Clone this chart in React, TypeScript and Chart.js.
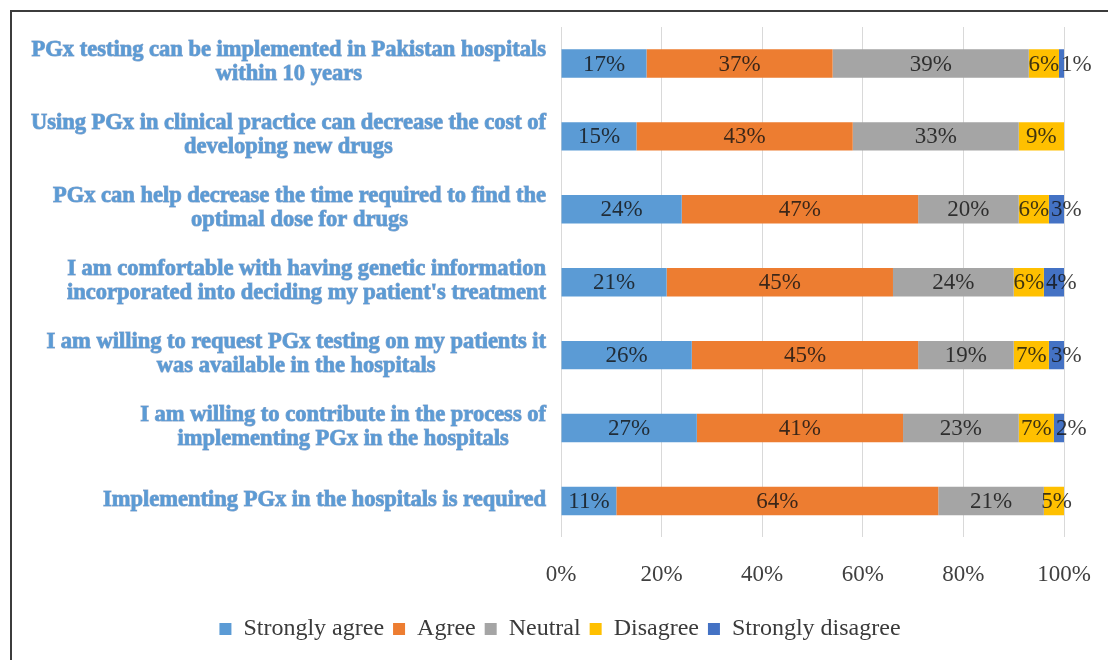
import React, { useEffect, useRef } from "react";
import { Chart, registerables } from "chart.js";

Chart.register(...registerables);

// Survey statements (top to bottom), each split into its printed lines
const statements: string[][] = [
  ["PGx testing can be implemented in Pakistan hospitals", "within 10 years"],
  ["Using PGx in clinical practice can decrease the cost of", "developing new drugs"],
  ["PGx can help decrease the time required to find the", "optimal dose for drugs"],
  ["I am comfortable with having genetic information", "incorporated into deciding my patient's treatment"],
  ["I am willing to request PGx testing on my patients it", "was available in the hospitals"],
  ["I am willing to contribute in the process of", "implementing PGx in the hospitals"],
  ["Implementing PGx in the hospitals is required"],
];

const seriesNames = ["Strongly agree", "Agree", "Neutral", "Disagree", "Strongly disagree"];
const seriesColors = ["#5b9bd5", "#ed7d31", "#a5a5a5", "#ffc000", "#4472c4"];

// Percentages per statement, in the same order as the statements
const stronglyAgree = [17, 15, 24, 21, 26, 27, 11];
const agree = [37, 43, 47, 45, 45, 41, 64];
const neutral = [39, 33, 20, 24, 19, 23, 21];
const disagree = [6, 9, 6, 6, 7, 7, 5];
const stronglyDisagree = [1, 0, 3, 4, 3, 2, 0];

const xTicks = [0, 20, 40, 60, 80, 100];

const SERIF = '"Liberation Serif", "Times New Roman", serif';
const LABEL_FONT = `bold 22.5px ${SERIF}`;
const VALUE_FONT = `23px ${SERIF}`;

// Statement labels: each block is right-aligned against the plot, lines centred within it
const statementLabels = {
  id: "statementLabels",
  afterDraw(chart: any) {
    const { ctx, chartArea, scales } = chart;
    const right = chartArea.left - 15;
    const lineH = 24;
    ctx.save();
    ctx.font = LABEL_FONT;
    ctx.textBaseline = "middle";
    ctx.textAlign = "center";
    statements.forEach((lines, i) => {
      const yc = scales.y.getPixelForValue(i) - 1;
      const w = Math.max(...lines.map((l) => ctx.measureText(l).width));
      const cx = right - w / 2;
      const y0 = yc - ((lines.length - 1) * lineH) / 2;
      lines.forEach((line, j) => {
        ctx.lineWidth = 1;
        ctx.strokeStyle = "rgba(45, 95, 160, 0.55)";
        ctx.strokeText(line, cx, y0 + j * lineH);
        ctx.fillStyle = "#5b9bd5";
        ctx.fillText(line, cx, y0 + j * lineH);
      });
    });
    ctx.restore();
  },
};

// Percentage labels inside each bar segment; narrow segments start at their left edge
const segmentLabels = {
  id: "segmentLabels",
  afterDatasetsDraw(chart: any) {
    const { ctx } = chart;
    ctx.save();
    ctx.font = VALUE_FONT;
    ctx.textBaseline = "middle";
    ctx.fillStyle = "rgba(20, 20, 20, 0.82)";
    chart.data.datasets.forEach((ds: any, di: number) => {
      const meta = chart.getDatasetMeta(di);
      meta.data.forEach((bar: any, i: number) => {
        const v = ds.data[i];
        if (!v) return;
        const left = Math.min(bar.x, bar.base);
        const right = Math.max(bar.x, bar.base);
        const text = v + "%";
        if (v < 5) {
          ctx.textAlign = "left";
          ctx.fillText(text, left + 2, bar.y + 1);
        } else {
          ctx.textAlign = "center";
          ctx.fillText(text, (left + right) / 2, bar.y + 1);
        }
      });
    });
    ctx.restore();
  },
};

export default function App() {
  const canvasRef = useRef<HTMLCanvasElement | null>(null);

  useEffect(() => {
    document.body.style.overflow = "hidden";
    if (!canvasRef.current) return;
    const values = [stronglyAgree, agree, neutral, disagree, stronglyDisagree];
    const chart = new Chart(canvasRef.current, {
      type: "bar",
      data: {
        labels: statements.map((s) => s.join(" ")),
        datasets: seriesNames.map((name, k) => ({
          label: name,
          data: values[k],
          backgroundColor: seriesColors[k],
          borderWidth: 0,
          barPercentage: 0.39,
          categoryPercentage: 1,
        })),
      },
      options: {
        indexAxis: "y",
        animation: false,
        responsive: false,
        maintainAspectRatio: false,
        layout: { padding: { left: 44, right: 44, top: 15, bottom: 9 } },
        scales: {
          x: {
            stacked: true,
            min: 0,
            max: 100,
            afterBuildTicks: (scale: any) => {
              scale.ticks = xTicks.map((v) => ({ value: v }));
            },
            afterFit: (scale: any) => {
              scale.height = scale.height + 15;
            },
            grid: {
              color: "#d9d9d9",
              lineWidth: 1,
              drawTicks: true,
              tickLength: 20,
              tickColor: "rgba(0,0,0,0)",
            },
            border: { display: false },
            ticks: {
              padding: 4,
              color: "#404040",
              font: { family: SERIF, size: 23 },
              callback: (v: any) => v + "%",
            },
          },
          y: {
            stacked: true,
            afterFit: (scale: any) => {
              scale.width = 505;
            },
            grid: { display: false, drawTicks: false },
            border: { display: false },
            ticks: { display: false },
          },
        },
        plugins: {
          legend: {
            position: "bottom",
            labels: {
              boxWidth: 12,
              boxHeight: 12,
              padding: 9,
              color: "#3a3a3a",
              font: { family: SERIF, size: 24 },
            },
          },
          tooltip: { enabled: false },
        },
      },
      plugins: [statementLabels, segmentLabels],
    } as any);
    return () => chart.destroy();
  }, []);

  return (
    <div
      style={{
        position: "absolute",
        left: 10,
        top: 10,
        width: 1096,
        height: 648,
        borderTop: "2px solid #3c3c3c",
        borderLeft: "2px solid #3c3c3c",
        background: "#fff",
        overflow: "hidden",
      }}
    >
      <canvas ref={canvasRef} width={1096} height={648} style={{ display: "block" }} />
    </div>
  );
}
